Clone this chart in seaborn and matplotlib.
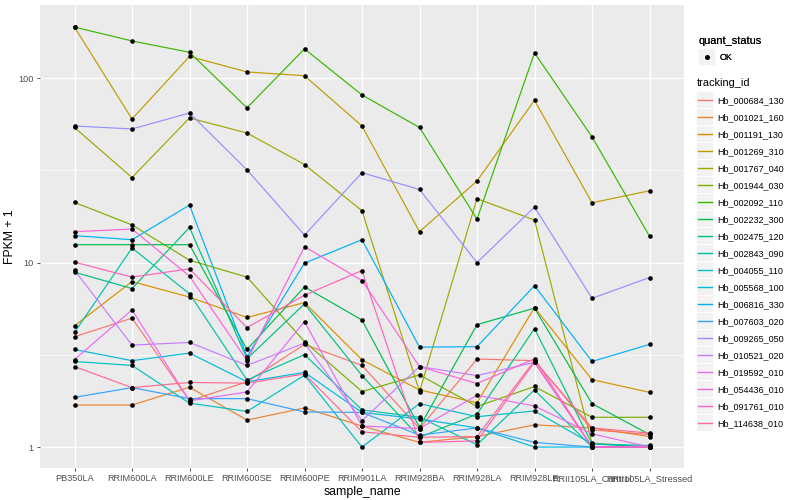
import matplotlib
matplotlib.use("Agg")
import matplotlib.pyplot as plt
from matplotlib.lines import Line2D
from matplotlib.patches import Rectangle
from matplotlib.legend_handler import HandlerBase
from matplotlib.ticker import FixedLocator, NullLocator
import seaborn as sns
import pandas as pd

samples = ["PB350LA", "RRIM600LA", "RRIM600LE", "RRIM600SE", "RRIM600PE", "RRIM901LA",
           "RRIM928BA", "RRIM928LA", "RRIM928LE", "RRII105LA_Control", "RRII105LA_Stressed"]

tracking_ids = ["Hb_000684_130", "Hb_001021_160", "Hb_001191_130", "Hb_001269_310",
                "Hb_001767_040", "Hb_001944_030", "Hb_002092_110", "Hb_002232_300",
                "Hb_002475_120", "Hb_002843_090", "Hb_004055_110", "Hb_005568_100",
                "Hb_006816_330", "Hb_007603_020", "Hb_009265_050", "Hb_010521_020",
                "Hb_019592_010", "Hb_054436_010", "Hb_091761_010", "Hb_114638_010"]

# FPKM + 1, one list per gene, in sample order
hb_000684_130 = [3.96, 5.0, 1.78, 2.26, 3.6, 2.77, 1.26, 3.0, 2.94, 1.24, 1.17]
hb_001021_160 = [1.69, 1.69, 2.11, 1.40, 1.63, 1.30, 1.06, 1.14, 1.32, 1.27, 1.14]
hb_001191_130 = [4.54, 7.89, 6.5, 5.04, 6.07, 2.97, 2.04, 1.74, 5.7, 2.32, 1.98]
hb_001269_310 = [189, 60, 131, 108, 103, 55, 14.7, 27.7, 75.8, 21.1, 24.5]
hb_001767_040 = [54, 28.9, 60.8, 50.4, 34, 19.1, 2.0, 22.2, 17.0, 1.05, 1.0]
hb_001944_030 = [21.2, 16.0, 10.3, 8.34, 3.73, 2.0, 2.46, 1.66, 2.13, 1.45, 1.45]
hb_002092_110 = [189, 159, 138, 69, 144, 81, 54, 17.2, 137, 48, 13.9]
hb_002232_300 = [12.5, 12.5, 12.5, 3.38, 7.38, 4.88, 1.28, 4.61, 5.66, 1.72, 1.17]
hb_002475_120 = [8.87, 7.23, 15.5, 3.01, 5.97, 2.44, 1.13, 1.51, 4.39, 1.04, 1.0]
hb_002843_090 = [4.18, 12.0, 6.77, 2.31, 3.17, 1.59, 1.45, 1.03, 2.04, 1.0, 1.0]
hb_004055_110 = [2.91, 2.77, 1.73, 1.56, 2.45, 1.0, 1.72, 1.46, 1.57, 1.04, 1.02]
hb_005568_100 = [3.38, 2.94, 3.23, 2.26, 2.54, 1.54, 1.42, 1.27, 1.0, 1.0, 1.0]
hb_006816_330 = [14.0, 13.3, 20.5, 3.09, 9.93, 13.3, 3.48, 3.5, 7.5, 2.91, 3.6]
hb_007603_020 = [1.86, 2.10, 1.83, 1.83, 1.55, 1.54, 1.16, 1.27, 1.06, 1.0, 1.0]
hb_009265_050 = [55, 53, 64.7, 31.8, 14.1, 30.7, 24.9, 10.0, 20.0, 6.4, 8.3]
hb_010521_020 = [9.1, 3.57, 3.69, 2.77, 3.66, 1.39, 2.73, 2.44, 2.88, 1.0, 1.0]
hb_019592_010 = [2.98, 5.54, 1.78, 1.99, 4.79, 1.30, 1.26, 1.91, 1.67, 1.18, 1.0]
hb_054436_010 = [14.7, 15.2, 8.44, 2.94, 12.2, 7.99, 2.73, 2.21, 3.01, 1.0, 1.0]
hb_091761_010 = [10.05, 8.34, 9.25, 4.44, 6.66, 9.05, 1.06, 1.08, 2.88, 1.0, 1.0]
hb_114638_010 = [2.73, 2.10, 2.24, 2.22, 2.49, 1.21, 1.13, 1.14, 2.94, 1.27, 1.19]

gene_values = [hb_000684_130, hb_001021_160, hb_001191_130, hb_001269_310, hb_001767_040,
               hb_001944_030, hb_002092_110, hb_002232_300, hb_002475_120, hb_002843_090,
               hb_004055_110, hb_005568_100, hb_006816_330, hb_007603_020, hb_009265_050,
               hb_010521_020, hb_019592_010, hb_054436_010, hb_091761_010, hb_114638_010]

# ggplot default hue palette for 20 levels
colors = ["#F8766D", "#EA8331", "#D89000", "#C09B00", "#A3A500", "#7CAE00", "#39B600",
          "#00BB4E", "#00BF7D", "#00C1A3", "#00BFC4", "#00BAE0", "#00B0F6", "#35A2FF",
          "#9590FF", "#C77CFF", "#E76BF3", "#FA62DB", "#FF62BC", "#FF6C91"]

rows = []
for gid, vals in zip(tracking_ids, gene_values):
    for s, v in zip(samples, vals):
        rows.append({"tracking_id": gid, "sample_name": s, "fpkm": v, "quant_status": "OK"})
df = pd.DataFrame(rows)
df["x"] = df["sample_name"].map({s: i for i, s in enumerate(samples)})

plt.rcParams["font.family"] = ["Liberation Sans", "DejaVu Sans"]


class KeyHandler(HandlerBase):
    # ggplot-like legend key: grey box behind the glyph
    def create_artists(self, legend, orig_handle, xdescent, ydescent, width, height,
                       fontsize, trans):
        cy = -ydescent + height / 2
        box = 12.2
        rect = Rectangle((-xdescent, cy - box / 2), width, box, facecolor="#F2F2F2",
                         edgecolor="white", linewidth=0.6, transform=trans)
        if orig_handle.get_marker() not in (None, "None", ""):
            glyph = Line2D([-xdescent + width / 2], [cy], marker="o", linestyle="none",
                           color="black", markersize=orig_handle.get_markersize(),
                           transform=trans)
        else:
            glyph = Line2D([-xdescent + 1.2, -xdescent + width - 1.2], [cy, cy],
                           color=orig_handle.get_color(), linewidth=orig_handle.get_linewidth(),
                           transform=trans)
        return [rect, glyph]


fig, ax = plt.subplots(figsize=(8, 5), dpi=100)
fig.subplots_adjust(left=0.05, right=0.855, top=0.99, bottom=0.064)
ax.set_facecolor("#EBEBEB")

sns.lineplot(data=df, x="x", y="fpkm", hue="tracking_id", hue_order=tracking_ids,
             palette=colors, linewidth=0.85, legend=False, sort=False, ax=ax, zorder=3)
sns.scatterplot(data=df, x="x", y="fpkm", color="black", s=11, linewidth=0,
                legend=False, ax=ax, zorder=4)

ax.set_yscale("log")
ax.set_ylim(0.77, 249)
ax.set_xlim(-0.6, len(samples) - 0.4)
ax.yaxis.set_major_locator(FixedLocator([1, 10, 100]))
ax.yaxis.set_minor_locator(FixedLocator([10 ** 0.5, 10 ** 1.5]))
ax.set_yticklabels(["1", "10", "100"])
ax.set_xticks(range(len(samples)))
ax.set_xticklabels(samples)
ax.xaxis.set_minor_locator(NullLocator())

ax.grid(which="major", color="white", linewidth=1.0)
ax.grid(which="minor", axis="y", color="white", linewidth=0.5)
ax.set_axisbelow(True)
for sp in ax.spines.values():
    sp.set_visible(False)
ax.tick_params(axis="both", which="major", length=2.5, width=0.6, color="#333333",
               labelsize=6.6, labelcolor="#4D4D4D", pad=2)
ax.tick_params(axis="y", which="minor", length=0)

ax.set_xlabel("sample_name", fontsize=8.8, labelpad=2)
ax.set_ylabel("FPKM + 1", fontsize=8.8, labelpad=2)

# legends
hmap = {Line2D: KeyHandler()}
status_handles = [Line2D([], [], marker="o", color="black", linestyle="none", markersize=2.6)]
leg1 = fig.legend(status_handles, ["OK"], title="quant_status", loc="upper left",
                  bbox_to_anchor=(0.866, 0.939), frameon=False, fontsize=6.5,
                  title_fontsize=7.9, handlelength=1.88, handletextpad=0.45,
                  alignment="left", borderaxespad=0, borderpad=0.6, handler_map=hmap)
leg1._legend_box.sep = 5
line_handles = [Line2D([], [], color=c, linewidth=1.0) for c in colors]
leg2 = fig.legend(line_handles, tracking_ids, title="tracking_id", loc="upper left",
                  bbox_to_anchor=(0.866, 0.851), frameon=False, fontsize=6.5,
                  title_fontsize=7.9, handlelength=1.88, handletextpad=0.45,
                  labelspacing=0.885, alignment="left", borderaxespad=0, handler_map=hmap)
fig.add_artist(leg1)

fig.savefig("out.png", dpi=100)
